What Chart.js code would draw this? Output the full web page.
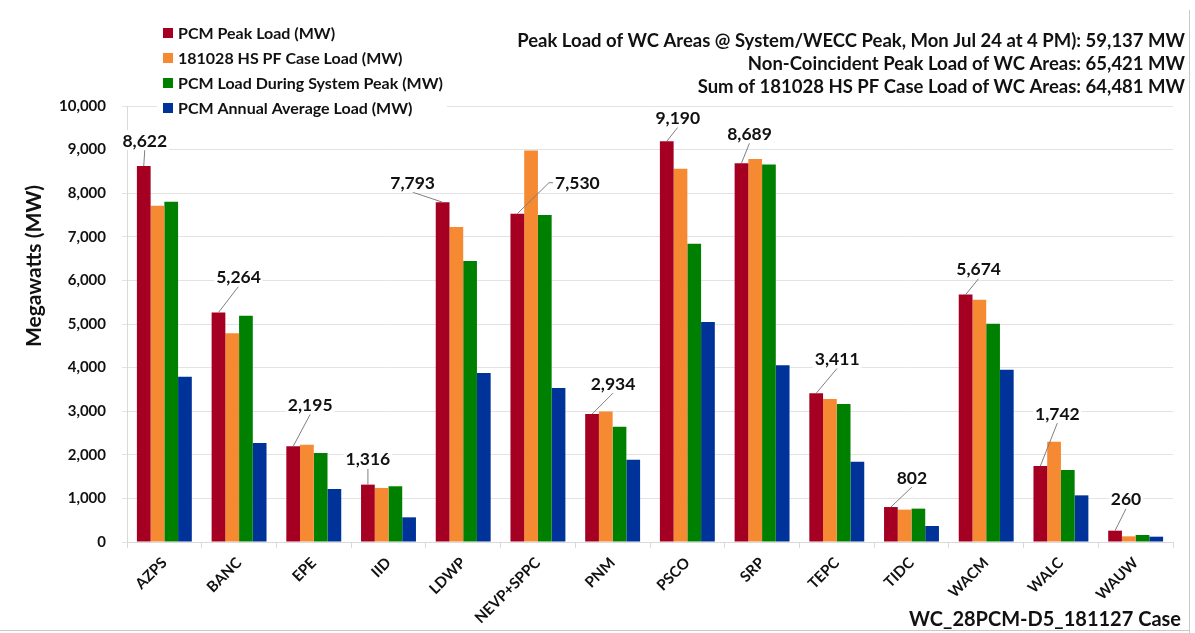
<!DOCTYPE html>
<html>
<head>
<meta charset="utf-8">
<script src="https://cdn.jsdelivr.net/npm/chart.js@4.4.1/dist/chart.umd.min.js"></script>
<style>
  html, body { margin: 0; padding: 0; background: #ffffff; }
  #wrap { width: 1195px; height: 633px; position: relative; }
</style>
</head>
<body>
<div id="wrap"><canvas id="chart" width="1195" height="633"></canvas></div>
<script>
// Balancing areas shown along the x axis
const areas = ['AZPS', 'BANC', 'EPE', 'IID', 'LDWP', 'NEVP+SPPC', 'PNM', 'PSCO', 'SRP', 'TEPC', 'TIDC', 'WACM', 'WALC', 'WAUW'];

// Loads in MW per area
const pcmPeakLoad     = [8622, 5264, 2195, 1316, 7793, 7530, 2934, 9190, 8689, 3411, 802, 5674, 1742, 260];
const hsPfCaseLoad    = [7710, 4790, 2230, 1240, 7225, 8980, 2995, 8560, 8785, 3280, 742, 5558, 2300, 130];
const loadAtSysPeak   = [7805, 5190, 2040, 1278, 6445, 7500, 2645, 6842, 8660, 3165, 765, 5008, 1651, 160];
const annualAvgLoad   = [3792, 2271, 1215, 566, 3876, 3532, 1888, 5046, 4052, 1843, 367, 3953, 1070, 122];

const seriesNames = ['PCM Peak Load (MW)', '181028 HS PF Case Load (MW)', 'PCM Load During System Peak (MW)', 'PCM Annual Average Load (MW)'];

// Summary lines printed at the top right
const summaryLines = [
  'Peak Load of WC Areas @ System/WECC Peak, Mon Jul 24 at 4 PM): 59,137 MW',
  'Non-Coincident Peak Load of WC Areas: 65,421 MW',
  'Sum of 181028 HS PF Case Load of WC Areas: 64,481 MW'
];
const caseName = 'WC_28PCM-D5_181127 Case';
const yTitle = 'Megawatts (MW)';

// Axis ticks
const yMin = 0, yMax = 10000, yStep = 1000;

const colors = ['#A50021', '#F58A32', '#008000', '#003399'];
const FONT = 'Lato, "Open Sans", sans-serif';

// Placement of the peak-load callouts relative to the top of each red bar
const calloutOffsets = [
  {dx: 1, dy: -26}, {dx: 20, dy: -36}, {dx: 17, dy: -42}, {dx: 0, dy: -26},
  {dx: -30, dy: -20}, {dx: 60, dy: -31, side: 'left'}, {dx: 21, dy: -31}, {dx: 11, dy: -24},
  {dx: 8, dy: -30}, {dx: 21, dy: -35}, {dx: 21, dy: -30}, {dx: 13, dy: -26},
  {dx: 17, dy: -53}, {dx: 11, dy: -32}
];

const fmt = v => v.toLocaleString('en-US');

const decorations = {
  id: 'decorations',
  afterDatasetsDraw(chart) {
    const ctx = chart.ctx;
    const meta = chart.getDatasetMeta(0);
    ctx.save();
    ctx.font = 'bold 17.5px ' + FONT;
    ctx.textAlign = 'center';
    ctx.textBaseline = 'middle';
    meta.data.forEach((bar, i) => {
      const off = calloutOffsets[i];
      const bx = bar.x, by = bar.y;
      const cx = bx + off.dx, cy = by + off.dy;
      const text = fmt(pcmPeakLoad[i]);
      const w = ctx.measureText(text).width + 4;
      const h = 20;
      // leader line
      ctx.strokeStyle = '#7f7f7f';
      ctx.lineWidth = 1;
      ctx.beginPath();
      if (off.side === 'left') {
        ctx.moveTo(bx, by);
        ctx.lineTo(cx - w / 2 - 4, cy);
        ctx.lineTo(cx - w / 2, cy);
      } else {
        ctx.moveTo(bx, by);
        ctx.lineTo(cx, cy + h / 2);
      }
      ctx.stroke();
      ctx.fillStyle = '#ffffff';
      ctx.fillRect(cx - w / 2, cy - h / 2, w, h);
      ctx.fillStyle = '#111111';
      ctx.fillText(text, cx, cy + 1);
    });
    ctx.restore();
  },
  afterDraw(chart) {
    const ctx = chart.ctx;
    ctx.save();
    // outer frame (right and bottom edges)
    ctx.strokeStyle = '#c9c9c9';
    ctx.lineWidth = 1;
    ctx.beginPath();
    ctx.moveTo(1189.5, 10);
    ctx.lineTo(1189.5, 633);
    ctx.moveTo(0, 630.5);
    ctx.lineTo(1189.5, 630.5);
    ctx.stroke();

    // legend
    ctx.fillStyle = '#ffffff';
    ctx.fillRect(157, 20, 290, 100);
    ctx.font = 'bold 16px ' + FONT;
    ctx.textAlign = 'left';
    ctx.textBaseline = 'middle';
    seriesNames.forEach((name, i) => {
      const y = 33 + i * 25;
      ctx.fillStyle = colors[i];
      ctx.fillRect(163, y - 5, 10, 10);
      ctx.fillStyle = '#111111';
      ctx.fillText(name, 178, y + 1);
    });

    // summary block
    ctx.font = 'bold 18.5px ' + FONT;
    ctx.textAlign = 'right';
    summaryLines.forEach((line, i) => {
      ctx.fillText(line, 1185, 41 + i * 23);
    });

    // case name
    ctx.font = 'bold 20px ' + FONT;
    ctx.fillText(caseName, 1181, 620);

    // y axis title
    ctx.translate(34, 266);
    ctx.rotate(-Math.PI / 2);
    ctx.textAlign = 'center';
    ctx.font = 'bold 21px ' + FONT;
    ctx.fillText(yTitle, 0, 0);
    ctx.restore();
  }
};

new Chart(document.getElementById('chart'), {
  type: 'bar',
  data: {
    labels: areas,
    datasets: [pcmPeakLoad, hsPfCaseLoad, loadAtSysPeak, annualAvgLoad].map((d, i) => ({
      label: seriesNames[i],
      data: d,
      backgroundColor: colors[i],
      borderWidth: 0,
      categoryPercentage: 0.735,
      barPercentage: 1.0
    }))
  },
  options: {
    responsive: false,
    animation: false,
    layout: { padding: { top: 106, right: 22, left: 0, bottom: 0 } },
    plugins: { legend: { display: false }, tooltip: { enabled: false } },
    scales: {
      x: {
        grid: { offset: true, drawOnChartArea: false, drawTicks: true, tickLength: 6, color: '#d9d9d9' },
        border: { color: '#d9d9d9' },
        ticks: {
          autoSkip: false, minRotation: 45, maxRotation: 45, padding: 6,
          color: '#111111', font: { family: FONT, weight: 'bold', size: 15 }
        },
        afterFit(scale) { scale.height = 91; }
      },
      y: {
        min: yMin, max: yMax,
        grid: { color: '#e3e3e3', tickLength: 5 },
        border: { color: '#d9d9d9' },
        ticks: {
          stepSize: yStep, padding: 16, color: '#111111',
          font: { family: FONT, weight: 'bold', size: 15 },
          callback: v => fmt(v)
        },
        afterFit(scale) { scale.width = 127; }
      }
    }
  },
  plugins: [decorations]
});
</script>
</body>
</html>
